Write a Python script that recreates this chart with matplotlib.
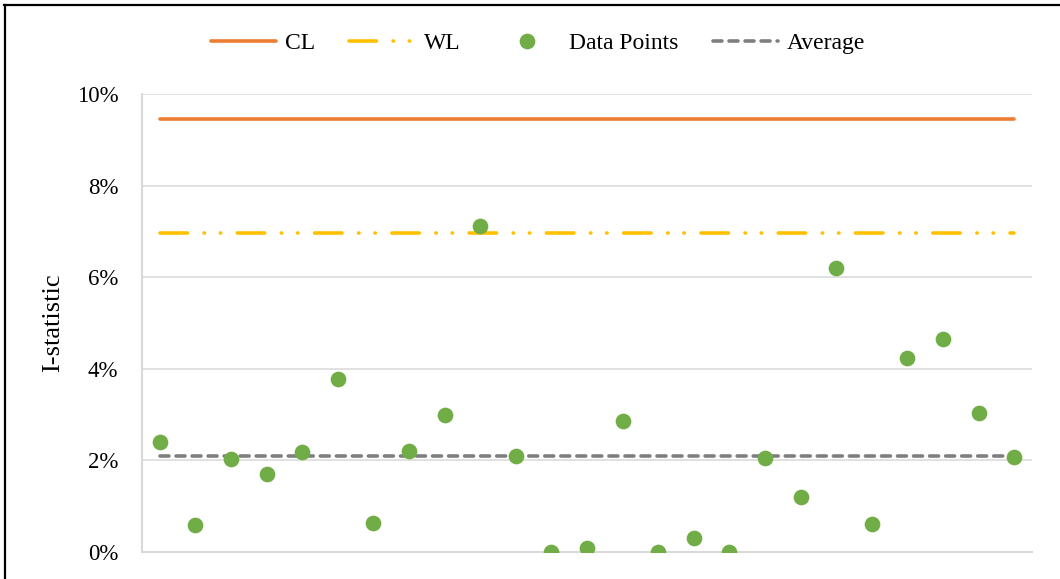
import matplotlib
matplotlib.use('Agg')
import matplotlib.pyplot as plt
import numpy as np
from matplotlib.lines import Line2D

# data (percent)
points = [2.40, 0.59, 2.03, 1.70, 2.18, 3.78, 0.63, 2.20, 2.99, 7.12,
          2.10, 0.00, 0.09, 2.86, 0.00, 0.31, 0.00, 2.05, 1.21, 6.19,
          0.61, 4.23, 4.66, 3.03, 2.07]
cl_value = 9.45
wl_value = 6.97
avg_value = 2.10
yticks = [0, 2, 4, 6, 8, 10]
ytick_labels = ['0%', '2%', '4%', '6%', '8%', '10%']

plt.rcParams['font.family'] = 'Liberation Serif'

x = np.arange(1, len(points) + 1)
n = len(points)

fig = plt.figure(figsize=(10.6, 5.79), dpi=100)
ax = fig.add_axes([142/1060, 1-552/579, 890/1060, 458/579])

ax.plot(x, [cl_value]*n, color='#ED7D31', lw=2.6, solid_capstyle='round', label='CL', zorder=3)
ax.plot(x, [wl_value]*n, color='#FFC000', lw=2.6, dashes=(7.6, 4.6, 0.1, 4.4, 0.1, 4.6),
        dash_capstyle='round', label='WL', zorder=3)
ax.plot(x, points, linestyle='none', marker='o', markersize=11.3, color='#70AD47',
        markeredgewidth=0, label='Data Points', zorder=5)
ax.plot(x, [avg_value]*n, color='#7F7F7F', lw=2.6, dashes=(2.47, 1.97),
        dash_capstyle='round', label='Average', zorder=4)

ax.set_xlim(0.5, n + 0.5)
ax.set_ylim(0, 10)
ax.set_xticks([])
ax.set_yticks(yticks)
ax.set_yticklabels(ytick_labels)
ax.tick_params(axis='y', length=0, pad=17, labelsize=16.5)
ax.grid(axis='y', color='#D9D9D9', lw=1.1)
ax.set_axisbelow(True)
for s in ['top', 'right']:
    ax.spines[s].set_visible(False)
for s in ['left', 'bottom']:
    ax.spines[s].set_color('#D9D9D9')
    ax.spines[s].set_linewidth(1.5)

ax.set_ylabel('I-statistic', fontsize=19)
ax.yaxis.set_label_coords(-0.0876, 0.5)

fig.legend(loc='center', bbox_to_anchor=(538/1060, 1-43/579), ncol=4, frameon=False,
           fontsize=17, handlelength=2.75, handletextpad=0.4, columnspacing=1.45)

# frame edges of the cropped picture
fig.add_artist(Line2D([4/1060, 1], [1-5/579, 1-5/579], color='black', lw=1.6, transform=fig.transFigure))
fig.add_artist(Line2D([5/1060, 5/1060], [0, 1-5/579], color='black', lw=1.6, transform=fig.transFigure))

plt.savefig('out.png', dpi=100)
